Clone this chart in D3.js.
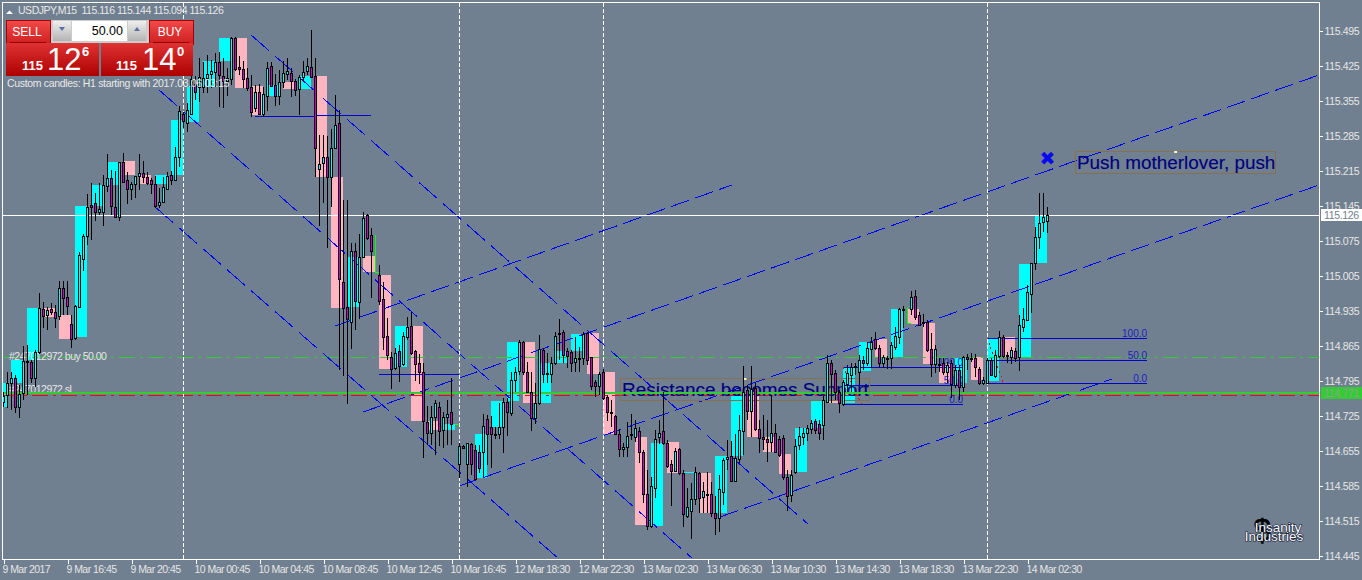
<!DOCTYPE html>
<html>
<head>
<meta charset="utf-8">
<script src="https://cdnjs.cloudflare.com/ajax/libs/d3/7.8.5/d3.min.js"></script>
<style>
html,body{margin:0;padding:0;background:#708090;overflow:hidden}
svg{display:block}
text{font-family:"Liberation Sans",Arial,sans-serif}
</style>
</head>
<body>
<svg id="chart" width="1362" height="580"></svg>
<script>
// ---------- M15 candles (index = bar number, null = no candle drawn) ----------
const barOpen = [114.753,114.767,114.791,114.801,114.743,114.771,114.835,114.833,114.801,114.853,
114.939,114.927,114.939,114.933,114.925,114.981,114.963,114.909,114.881,114.943,
115.039,115.085,115.147,115.151,115.133,115.133,115.185,115.201,115.143,115.123,
115.233,115.197,115.179,115.189,115.205,115.211,115.203,115.197,115.189,115.147,
115.153,115.179,115.207,115.197,115.243,115.329,115.311,115.329,115.389,115.383,
115.383,115.401,115.409,115.413,115.433,115.405,115.395,115.399,115.481,115.423,
115.419,115.401,115.383,115.341,115.373,115.329,115.365,115.425,115.387,115.365,
115.393,115.409,115.411,115.395,115.379,115.403,115.415,115.423,115.405,115.219,
115.231,115.243,115.203,115.261,115.311,114.993,114.943,114.913,115.055,114.953,
115.043,115.127,115.087,null,115.007,114.959,114.885,114.843,114.821,114.855,
114.829,114.883,114.905,114.855,114.831,114.813,114.713,114.691,114.723,114.743,
114.697,114.723,114.733,null,114.629,114.665,114.629,114.669,114.657,114.653,
114.653,114.719,114.703,114.689,114.689,114.703,114.753,114.731,114.797,114.815,
114.873,114.813,114.773,114.721,114.751,114.857,114.811,114.809,114.831,114.891,
114.893,114.855,114.853,114.833,114.841,114.841,114.891,114.843,114.793,114.785,
114.813,114.763,114.733,114.725,114.689,114.659,114.663,114.689,114.683,114.695,
114.653,114.569,114.505,114.581,114.683,114.695,114.671,114.629,114.615,114.659,
114.611,114.525,114.535,114.559,114.611,114.563,114.569,114.569,114.531,114.521,
114.573,114.639,114.645,114.595,114.639,114.695,114.777,114.735,114.781,114.699,
114.683,114.679,114.673,114.691,114.679,114.681,114.603,114.567,114.613,114.667,
114.683,114.691,114.699,114.715,114.709,114.707,114.753,114.831,114.811,114.773,
114.749,114.789,114.807,114.825,114.813,114.837,114.831,114.859,114.879,114.861,
114.831,114.841,114.841,114.863,114.883,114.939,null,114.939,114.965,114.927,
114.913,114.913,114.859,114.829,114.829,114.831,114.813,114.831,114.787,114.817,
114.783,114.843,114.841,114.841,114.819,114.791,114.791,114.837,114.805,114.845,
114.883,114.847,114.843,114.855,114.843,114.903,114.917,114.969,115.031,115.083,115.113,115.115];

const barHigh = [114.773,114.813,114.813,114.807,114.787,114.865,114.867,114.837,114.857,114.971,
114.953,114.943,114.951,114.947,114.995,114.995,114.995,114.927,114.947,115.053,
115.089,115.169,115.191,115.171,115.191,115.207,115.249,115.217,115.215,115.233,
115.251,115.213,115.193,115.205,115.249,115.235,115.213,115.201,115.205,115.181,
115.203,115.213,115.215,115.263,115.345,115.333,115.351,115.407,115.405,115.441,
115.433,115.447,115.437,115.451,115.453,115.441,115.421,115.483,115.483,115.445,
115.435,115.421,115.407,115.387,115.389,115.383,115.433,115.433,115.409,115.417,
115.435,115.441,115.421,115.399,115.407,115.435,115.441,115.497,115.441,115.287,
115.287,115.285,115.299,115.367,115.337,115.157,115.157,115.071,115.071,115.089,
115.133,115.129,115.101,null,115.027,114.993,114.921,114.853,114.861,114.867,
114.893,114.923,114.933,114.857,114.849,114.831,114.745,114.745,114.757,114.753,
114.733,114.757,114.801,null,114.671,114.667,114.671,114.671,114.667,114.667,
114.729,114.727,114.725,114.703,114.751,114.761,114.761,114.813,114.823,114.877,
114.875,114.833,114.813,114.791,114.887,114.861,114.851,114.843,114.893,114.919,
114.897,114.861,114.857,114.883,114.863,114.893,114.893,114.843,114.797,114.813,
114.819,114.767,114.757,114.727,114.699,114.671,114.713,114.729,114.717,114.703,
114.657,114.617,114.603,114.697,114.717,114.773,114.677,114.637,114.661,114.661,
114.617,114.581,114.591,114.623,114.613,114.593,114.613,114.593,114.565,114.607,
114.641,114.677,114.675,114.689,114.727,114.825,114.787,114.825,114.791,114.717,
114.727,114.717,114.767,114.709,114.685,114.687,114.617,114.617,114.679,114.703,
114.701,114.707,114.717,114.719,114.717,114.765,114.847,114.837,114.817,114.777,
114.797,114.827,114.831,114.831,114.847,114.845,114.873,114.883,114.893,114.867,
114.847,114.845,114.873,114.903,114.941,114.945,null,114.975,114.977,114.933,
114.929,114.917,114.891,114.867,114.841,114.841,114.833,114.837,114.827,114.827,
114.845,114.849,114.851,114.849,114.823,114.803,114.841,114.841,114.857,114.895,
114.887,114.853,114.863,114.861,114.927,114.941,114.987,115.031,115.103,115.171,115.171,115.143];

const barLow = [114.743,114.741,114.737,114.731,114.721,114.757,114.767,114.791,114.783,114.849,
114.901,114.897,114.927,114.901,114.917,114.927,114.927,114.861,114.877,114.941,
115.015,115.067,115.077,115.115,115.127,115.105,115.173,115.127,115.121,115.115,
115.191,115.149,115.157,115.161,115.177,115.191,115.187,115.169,115.141,115.141,
115.151,115.179,115.187,115.197,115.223,115.301,115.293,115.327,115.357,115.353,
115.371,115.371,115.381,115.383,115.343,115.341,115.365,115.387,115.415,115.407,
115.381,115.375,115.323,115.333,115.327,115.323,115.335,115.383,115.345,115.347,
115.381,115.397,115.363,115.365,115.327,115.393,115.407,115.403,115.203,115.105,
115.151,115.061,115.143,115.261,114.817,114.805,114.749,114.859,114.897,114.919,
115.041,115.077,114.961,null,114.947,114.857,114.837,114.779,114.817,114.793,
114.825,114.877,114.847,114.795,114.789,114.641,114.667,114.667,114.647,114.665,
114.661,114.667,114.667,null,114.601,114.659,114.583,114.607,114.599,114.611,
114.603,114.627,114.621,114.679,114.679,114.651,114.685,114.725,114.773,114.807,
114.807,114.771,114.695,114.709,114.747,114.791,114.791,114.791,114.827,114.837,
114.831,114.821,114.813,114.813,114.813,114.827,114.827,114.777,114.763,114.767,
114.757,114.715,114.703,114.687,114.643,114.643,114.643,114.677,114.673,114.631,
114.551,114.497,114.501,114.561,114.669,114.667,114.621,114.545,114.613,114.607,
114.503,114.521,114.479,114.547,114.531,114.531,114.531,114.523,114.487,114.493,
114.547,114.617,114.593,114.593,114.631,114.647,114.717,114.683,114.695,114.651,
114.657,114.633,114.653,114.651,114.643,114.597,114.535,114.553,114.609,114.657,
114.667,114.675,114.689,114.689,114.677,114.677,114.751,114.751,114.757,114.731,
114.745,114.773,114.773,114.807,114.787,114.817,114.825,114.821,114.857,114.823,
114.821,114.819,114.819,114.857,114.869,114.901,null,114.927,114.917,114.905,
114.903,114.853,114.803,114.811,114.813,114.807,114.791,114.761,114.781,114.757,
114.773,114.817,114.833,114.803,114.787,114.787,114.789,114.805,114.801,114.841,
114.841,114.831,114.829,114.833,114.815,114.893,114.915,114.931,115.017,115.059,115.093,115.091];

const barClose = [114.765,114.791,114.801,114.743,114.769,114.835,114.833,114.801,114.853,114.941,
114.925,114.937,114.933,114.921,114.981,114.961,114.945,114.879,114.945,115.047,
115.085,115.143,115.143,115.133,115.139,115.187,115.201,115.145,115.123,115.233,
115.193,115.179,115.189,115.205,115.211,115.203,115.191,115.189,115.145,115.153,
115.183,115.205,115.197,115.243,115.335,115.315,115.337,115.399,115.373,115.403,
115.401,115.409,115.415,115.433,115.407,115.395,115.401,115.481,115.419,115.419,
115.399,115.381,115.333,115.373,115.329,115.369,115.421,115.385,115.365,115.393,
115.411,115.415,115.395,115.377,115.403,115.413,115.425,115.403,115.261,115.229,
115.243,115.203,115.261,115.307,114.999,114.941,114.919,115.055,114.955,115.043,
115.121,115.081,115.055,null,114.955,114.883,114.847,114.819,114.851,114.825,
114.885,114.903,114.851,114.829,114.813,114.715,114.691,114.723,114.751,114.695,
114.723,114.729,114.709,null,114.665,114.661,114.671,114.629,114.599,114.621,
114.705,114.689,114.689,114.687,114.703,114.753,114.733,114.797,114.813,114.873,
114.813,114.773,114.721,114.751,114.859,114.809,114.809,114.831,114.885,114.889,
114.847,114.845,114.831,114.841,114.839,114.889,114.837,114.785,114.785,114.809,
114.761,114.733,114.731,114.689,114.659,114.663,114.685,114.687,114.701,114.653,
114.569,114.505,114.585,114.679,114.691,114.671,114.625,114.615,114.655,114.611,
114.529,114.543,114.559,114.613,114.561,114.575,114.567,114.531,114.521,114.579,
114.637,114.643,114.595,114.641,114.697,114.773,114.735,114.779,114.699,114.681,
114.679,114.673,114.691,114.653,114.647,114.603,114.565,114.607,114.665,114.685,
114.691,114.701,114.711,114.697,114.691,114.757,114.831,114.809,114.773,114.751,
114.793,114.811,114.823,114.823,114.837,114.831,114.861,114.873,114.861,114.831,
114.843,114.839,114.867,114.885,114.939,114.937,null,114.963,114.923,114.907,
114.911,114.857,114.829,114.859,114.827,114.813,114.827,114.789,114.817,114.783,
114.843,114.839,114.839,114.823,114.791,114.797,114.837,114.807,114.847,114.883,
114.845,114.845,114.857,114.841,114.907,114.919,114.973,115.031,115.083,115.111,115.123,115.127];

// ---------- custom H1 candles ----------
const h1Bar = [0,2,6,10,14,18,22,26,30,34,38,42,46,50,54,58,62,66,70,74,78,82,86,90,94,98,102,106,110,118,
122,126,130,134,138,142,146,150,158,162,166,170,174,178,182,186,190,194,198,202,206,210,214,218,222,226,230,234,238,242,246,250,254,258];
const h1Bars = [1,3];  // first box is a partial hour, the others span 3 bar steps
const h1Open = [114.743,114.791,114.837,114.941,114.927,114.883,115.145,115.187,115.235,115.207,
115.189,115.207,115.313,115.383,115.435,115.481,115.385,115.365,115.393,115.379,
115.405,115.203,114.943,115.045,115.007,114.823,114.905,114.715,114.697,114.601,
114.703,114.755,114.873,114.751,114.831,114.855,114.891,114.813,114.683,114.505,
114.673,114.611,114.611,114.531,114.645,114.767,114.683,114.649,114.613,114.701,
114.757,114.751,114.815,114.879,114.843,114.939,114.911,114.829,114.791,114.843,
114.795,114.883,114.843,115.031];
const h1Close = [114.791,114.837,114.941,114.923,114.879,115.145,115.187,115.233,115.207,115.189,
115.207,115.317,115.383,115.435,115.481,115.381,115.327,115.387,115.379,115.405,
115.203,114.941,115.043,115.013,114.819,114.905,114.715,114.697,114.709,114.689,
114.755,114.873,114.751,114.831,114.855,114.889,114.809,114.689,114.507,114.671,
114.611,114.613,114.531,114.645,114.767,114.683,114.653,114.609,114.701,114.757,
114.751,114.823,114.873,114.841,114.939,114.909,114.829,114.791,114.841,114.797,
114.881,114.843,115.029,115.125];

// ---------- axes ----------
const priceTicks = [115.495,115.425,115.355,115.285,115.215,115.145,115.075,115.005,114.935,114.865,114.795,114.725,114.655,114.585,114.515,114.445];
const timeTickBars = [0,16,32,48,64,80,96,112,128,144,160,176,192,208,224,240,256];
const timeLabels = ["9 Mar 2017","9 Mar 16:45","9 Mar 20:45","10 Mar 00:45","10 Mar 04:45","10 Mar 08:45","10 Mar 12:45","10 Mar 16:45","12 Mar 18:30","12 Mar 22:30","13 Mar 02:30","13 Mar 06:30","13 Mar 10:30","13 Mar 14:30","13 Mar 18:30","13 Mar 22:30","14 Mar 02:30"];
const separatorBars = [45,114,150,246];

// ---------- chart objects ----------
const bidPrice = 115.126;
const entryPrice = 114.843;
const stopDrawn = 114.771;
const stopOrder = 114.767;
const channelStartBar = [37.9,38.9,61.9,82.9,89.9,113.9,179.1];
const channelStartPrice = [115.143,115.377,115.487,114.905,114.733,114.585,114.523];
const channelEndBar = [138.6,172.1,201.1,182.1,328.9,328.9,277.1];
const channelEndPrice = [114.441,114.441,114.509,115.187,115.407,115.187,114.799];
const levelStartBar = [62.9,77.9,93.9,209.9,209.9,209.9,245.9,245.9,245.9];
const levelEndBar = [77.9,91.9,113.9,239.9,239.9,239.9,285.9,285.9,285.9];
const levelPrice = [115.325,115.327,114.809,114.823,114.787,114.749,114.881,114.836,114.791];
const levelLabel = ["","","","100.0","50.0","0.0","100.0","50.0","0.0"];
const fibDiagBar = [[209.9,214.5],[245.9,250]];
const fibDiagPrice = [[114.823,114.749],[114.881,114.791]];
const greenMarkBar = [93,113,226];
const greenMarkTop = [115.087,114.707,114.943];
const greenMarkBottom = [115.013,114.709,114.911];
const noteTexts = ["Resistance becomes Support","Push motherlover, push"];
const noteBar = [154.4,268.1];
const notePrice = [114.777,115.231];
const noteAnchorPrice = [114.801,115.255];
const crossBar = 261;
const crossPrice = 115.241;
const orderTexts = ["#247012972 buy 50.00","#247012972 sl"];
const orderPrice = [114.837,114.771];
const headerText = "USDJPY,M15  115.116 115.144 115.094 115.126";
const customText = "Custom candles: H1 starting with 2017.03.06 03:15";

// ---------- scales ----------
const xS = d3.scaleLinear().domain([0,261]).range([3.5,1047.5]);
const yS = d3.scaleLinear().domain([114.445,115.495]).range([556,31]);
const svg = d3.select('#chart');
const W=1362,H=580,frameR=1319.5,frameB=559.5;

const bg = '#708090', white='#ffffff', boxUp='#00ffff', boxDn='#ffb6c1', bull='#00ffff', bear='#cc00cc';
const bluLine='#0000ff', fibBlue='#0000cd', labBlue='#1c1cc4', navy='#00007f';
svg.append('rect').attr('width',W).attr('height',H).attr('fill',bg);

svg.append('defs').append('clipPath').attr('id','plot').append('rect').attr('x',3).attr('y',3).attr('width',frameR-3).attr('height',frameB-3);
const plot = svg.append('g').attr('clip-path','url(#plot)');

// H1 boxes
h1Bar.forEach((b,k)=>{
  const span = k===0 ? h1Bars[0] : h1Bars[1];
  const y0=yS(Math.max(h1Open[k],h1Close[k])), y1=yS(Math.min(h1Open[k],h1Close[k]));
  plot.append('rect').attr('x',xS(b)-.5).attr('y',y0).attr('width',xS(b+span)-xS(b)+(k===0?1:0)).attr('height',Math.max(1,y1-y0))
    .attr('fill',h1Close[k]>=h1Open[k]?boxUp:boxDn).attr('shape-rendering','crispEdges');
});

// green dash-dot order line, red stop line
const ddArray='16,5,3,5';
function hLine(p,col,w,dash){
  const l=plot.append('line').attr('x1',3).attr('x2',frameR).attr('y1',Math.round(yS(p))+.5).attr('y2',Math.round(yS(p))+.5)
   .attr('stroke',col).attr('stroke-width',w).attr('shape-rendering','crispEdges');
  if(dash)l.attr('stroke-dasharray',dash);
  return l;
}
hLine(entryPrice,'#32cd32',1,ddArray);
hLine(stopOrder,'#ff0000',1,ddArray);

// channel lines
channelStartBar.forEach((b,k)=>{
  const x1=xS(b),y1=yS(channelStartPrice[k]),x2=xS(channelEndBar[k]),y2=yS(channelEndPrice[k]);
  const sc=Math.hypot(x2-x1,y2-y1)/Math.abs(x2-x1);
  plot.append('line').attr('x1',x1).attr('y1',y1).attr('x2',x2).attr('y2',y2)
    .attr('stroke',bluLine).attr('stroke-width',1).attr('shape-rendering','crispEdges')
    .attr('stroke-dasharray',(18*sc)+','+(6*sc));
});

// level lines and labels
levelStartBar.forEach((b,k)=>{
  const y=Math.round(yS(levelPrice[k]))+.5;
  plot.append('line').attr('x1',xS(b)).attr('x2',xS(levelEndBar[k])).attr('y1',y).attr('y2',y)
    .attr('stroke',fibBlue).attr('stroke-width',1).attr('shape-rendering','crispEdges');
  if(levelLabel[k]) plot.append('text').attr('x',xS(levelEndBar[k])).attr('y',y-2).attr('text-anchor','end')
    .attr('font-size',10).attr('fill',labBlue).text(levelLabel[k]);
});
fibDiagBar.forEach((bs,k)=>{
  plot.append('line').attr('x1',xS(bs[0])).attr('x2',xS(bs[1])).attr('y1',yS(fibDiagPrice[k][0])).attr('y2',yS(fibDiagPrice[k][1]))
    .attr('stroke','#ff0000').attr('stroke-dasharray','2,3').attr('shape-rendering','crispEdges');
});

// notes with a frame
noteTexts.forEach((t,k)=>{
  const x=xS(noteBar[k]), yc=yS(notePrice[k]);
  const tx=plot.append('text').attr('x',x+1).attr('y',yc+6).attr('font-size',18.9).attr('fill',navy).attr('stroke',navy).attr('stroke-width',.15).text(t);
  const len=tx.node().getComputedTextLength();
  plot.append('rect').attr('x',Math.round(x)-.5).attr('y',Math.round(yc)-11.5).attr('width',Math.round(len)+2).attr('height',22)
    .attr('fill','none').attr('stroke','#857050').attr('stroke-width',1).attr('shape-rendering','crispEdges');
  plot.append('rect').attr('x',x+len/2-1).attr('y',yS(noteAnchorPrice[k])).attr('width',3).attr('height',2).attr('fill','#ffffc0');
});
plot.append('text').attr('x',xS(crossBar)).attr('y',yS(crossPrice)+7).attr('text-anchor','middle')
  .style('font-family','DejaVu Sans').attr('font-size',19).attr('fill','#0a0aee').text('\u2716');

orderTexts.forEach((t,k)=>{
  plot.append('text').attr('x',9).attr('y',Math.round(yS(orderPrice[k]))).attr('font-size',10.5).attr('letter-spacing',-.5).attr('fill','#e6e6e6').text(t);
});

// separators, bid line, thick stop line
separatorBars.forEach(b=>{
  plot.append('line').attr('x1',xS(b)).attr('x2',xS(b)).attr('y1',3).attr('y2',frameB)
   .attr('stroke',white).attr('stroke-dasharray','4,2').attr('shape-rendering','crispEdges');
});
hLine(bidPrice,white,1);
plot.append('line').attr('x1',3).attr('x2',frameR).attr('y1',Math.round(yS(stopDrawn))).attr('y2',Math.round(yS(stopDrawn)))
   .attr('stroke','#32cd32').attr('stroke-width',2).attr('shape-rendering','crispEdges');

// green marks
greenMarkBar.forEach((b,k)=>{
  plot.append('path').attr('d',`M${xS(b)},${yS(greenMarkTop[k])}V${yS(greenMarkBottom[k])}h3`)
   .attr('fill','none').attr('stroke','#00ff00').attr('shape-rendering','crispEdges');
});

// candles
const idx=d3.range(barOpen.length).filter(i=>barOpen[i]!==null);
const cg=plot.append('g').attr('shape-rendering','crispEdges');
cg.selectAll('line').data(idx).join('line')
  .attr('x1',i=>xS(i)).attr('x2',i=>xS(i)).attr('y1',i=>yS(barHigh[i])).attr('y2',i=>yS(barLow[i]))
  .attr('stroke','#000').attr('stroke-width',1);
cg.selectAll('rect').data(idx).join('rect')
  .attr('x',i=>xS(i)-1).attr('width',2)
  .attr('y',i=>yS(Math.max(barOpen[i],barClose[i])))
  .attr('height',i=>Math.max(1,Math.abs(yS(barOpen[i])-yS(barClose[i]))))
  .attr('fill',i=>barClose[i]>=barOpen[i]?bull:bear)
  .attr('stroke','#000').attr('stroke-width',1);

// logo
const logo=plot.append('g');
logo.append('text').attr('x',1262).attr('y',541).attr('text-anchor','middle').attr('font-size',31).attr('fill','#000').attr('stroke','#000').attr('stroke-width',.6).text('$');
[['Insanity',1278,532],['Industries',1274,541]].forEach(d=>{
  logo.append('text').attr('x',d[1]).attr('y',d[2]).attr('text-anchor','middle').attr('font-size',13.5).attr('fill','#fff')
   .attr('stroke','#101830').attr('stroke-width',1.2).style('paint-order','stroke').text(d[0]);
});

// frame
svg.append('rect').attr('x',2.5).attr('y',2.5).attr('width',frameR-2.5).attr('height',frameB-2.5)
  .attr('fill','none').attr('stroke',white).attr('shape-rendering','crispEdges');

// axes
const axTxt='#e6e6e6';
const yAxis=d3.axisRight(yS).tickValues(priceTicks).tickFormat(d3.format('.3f')).tickSize(3).tickPadding(2);
const ya=svg.append('g').attr('transform',`translate(${frameR},0)`).call(yAxis);
ya.select('.domain').remove();
ya.selectAll('line').attr('stroke',white).attr('shape-rendering','crispEdges');
ya.selectAll('text').attr('fill',axTxt).attr('font-size',10.5).attr('font-family',null).attr('letter-spacing',-.35);
const xAxis=d3.axisBottom(xS).tickValues(timeTickBars).tickFormat((d,i)=>timeLabels[i]).tickSize(4).tickPadding(2);
const xa=svg.append('g').attr('transform',`translate(0,${frameB})`).call(xAxis);
xa.select('.domain').remove();
xa.selectAll('line').attr('stroke',white).attr('shape-rendering','crispEdges');
xa.selectAll('text').attr('fill',axTxt).attr('font-size',10.5).attr('text-anchor','start').attr('x',-1.5).attr('font-family',null).attr('letter-spacing',-.55);

// price tags
function tag(p,fill,txt){
  const y=Math.round(yS(p));
  svg.append('rect').attr('x',1321).attr('y',y-6).attr('width',41).attr('height',12).attr('fill',fill);
  svg.append('text').attr('x',1324).attr('y',y+4).attr('font-size',10.5).attr('letter-spacing',-.35).attr('fill',txt).text(p.toFixed(3));
}
tag(bidPrice,white,'#708090');
tag(stopDrawn,'#32cd32','#8fa08f');

// header and trade panel
svg.append('path').attr('d','M6,14l3.5-3.5l3.5,3.5z').attr('fill','#fff');
svg.append('text').attr('x',18).attr('y',14).attr('font-size',10.5).attr('fill','#e8e8e8').attr('letter-spacing',-.48).style('white-space','pre').text(headerText);

const defs=svg.select('defs');
function grad(id,a,b){const g=defs.append('linearGradient').attr('id',id).attr('x1',0).attr('y1',0).attr('x2',0).attr('y2',1);
 g.append('stop').attr('offset',0).attr('stop-color',a);g.append('stop').attr('offset',1).attr('stop-color',b);}
grad('gBtn','#f24a4a','#cf2020');grad('gPrice','#df3333','#ad0000');grad('gGrey','#eeeeee','#b4b4b4');
const panel=svg.append('g').attr('shape-rendering','crispEdges');
panel.append('rect').attr('x',50).attr('y',20).attr('width',99).attr('height',23).attr('fill','#cccccc');
[[6,44],[149,44]].forEach(d=>panel.append('rect').attr('x',d[0]).attr('y',20).attr('width',d[1]).attr('height',24).attr('fill','url(#gBtn)').attr('stroke','#a80000'));
[[6,93],[101,92]].forEach(d=>panel.append('rect').attr('x',d[0]).attr('y',43).attr('width',d[1]).attr('height',33).attr('fill','url(#gPrice)'));
[[10,36],[153,36]].forEach(d=>panel.append('rect').attr('x',d[0]).attr('y',41.5).attr('width',d[1]).attr('height',1).attr('fill','#9a0000'));
[[53,18],[128,18]].forEach(d=>panel.append('rect').attr('x',d[0]).attr('y',21).attr('width',d[1]).attr('height',20).attr('fill','url(#gGrey)'));
panel.append('rect').attr('x',72).attr('y',21).attr('width',55).attr('height',20).attr('fill','#fff');
svg.append('path').attr('d','M59,27h6l-3,4z').attr('fill','#5a6ea0');
svg.append('path').attr('d','M134,31h6l-3,-4z').attr('fill','#5a6ea0');
const lab=(t,x,y,s,c,a,w)=>svg.append('text').attr('x',x).attr('y',y).attr('font-size',s).attr('fill',c).attr('text-anchor',a||'start').attr('font-weight',w||'normal').text(t);
lab('SELL',27,36,12,'#fff','middle');lab('BUY',170,36,12,'#fff','middle');
lab('50.00',123,35,12.5,'#000','end');
lab('115',22,70,13,'#fff','start','bold');lab('12',47,70,31,'#fff');lab('6',82,56,13,'#fff','start','bold');
lab('115',116,70,13,'#fff','start','bold');lab('14',142,70,31,'#fff');lab('0',177,56,13,'#fff','start','bold');
svg.append('text').attr('x',7).attr('y',87).attr('font-size',10.5).attr('fill','#e8e8e8').attr('letter-spacing',-.33).text(customText);
</script>
</body>
</html>
